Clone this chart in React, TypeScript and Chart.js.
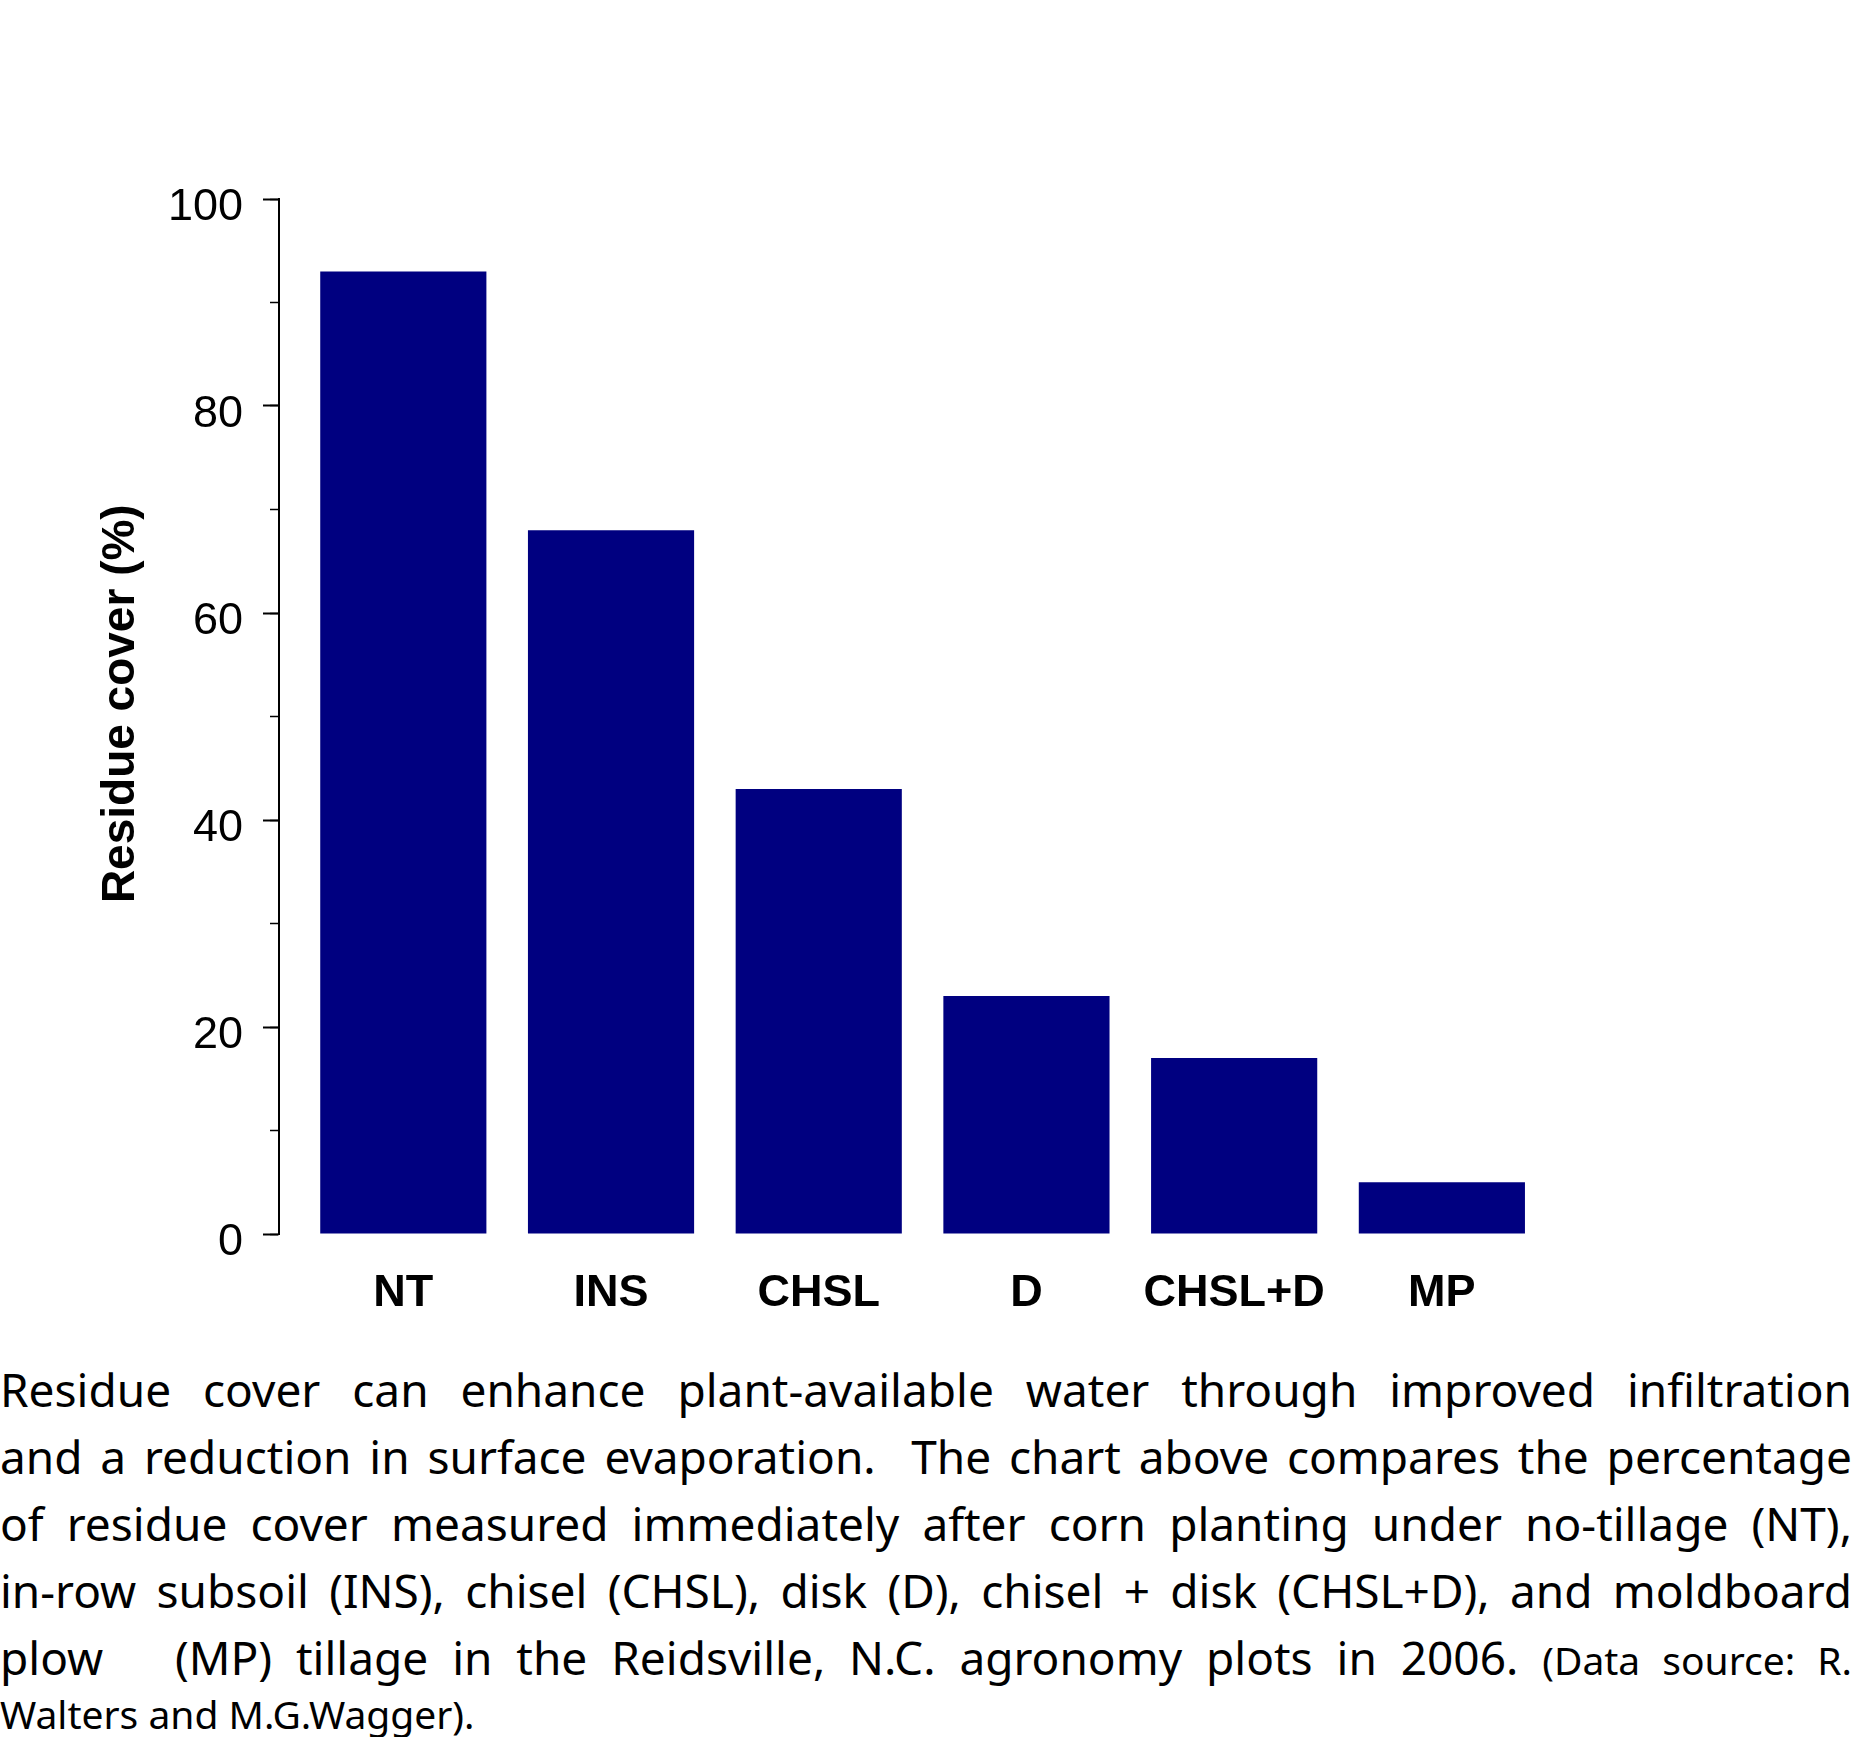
import React, { useEffect, useRef } from 'react';
import { Chart, registerables } from 'chart.js';

Chart.register(...registerables);

const categories = ['NT', 'INS', 'CHSL', 'D', 'CHSL+D', 'MP'];
const residueCover = [93, 68, 43, 23, 17, 5];
const majorTicks = [0, 20, 40, 60, 80, 100];
const minorTicks = [0, 10, 20, 30, 40, 50, 60, 70, 80, 90, 100];

const axisFont = "'Liberation Sans', Arial, Helvetica, sans-serif";
const textFont = "'Noto Sans', 'Open Sans', sans-serif";

const captionLines = [
  'Residue cover can enhance plant-available water through improved infiltration',
  'and a reduction in surface evaporation.\u00a0 The chart above compares the percentage',
  'of residue cover measured immediately after corn planting under no-tillage (NT),',
  'in-row subsoil (INS), chisel (CHSL), disk (D), chisel + disk (CHSL+D), and moldboard',
];

const ResidueChart = () => {
  const canvasRef = useRef<HTMLCanvasElement>(null);
  const chartRef = useRef<Chart | null>(null);

  useEffect(() => {
    document.body.style.margin = '0';
    if (!canvasRef.current) return;
    if (chartRef.current) chartRef.current.destroy();

    chartRef.current = new Chart(canvasRef.current, {
      type: 'bar',
      data: {
        datasets: [
          {
            label: 'Residue cover (%)',
            data: categories.map((c, i) => ({ x: i, y: residueCover[i] })),
            backgroundColor: '#000080',
            borderWidth: 0,
            barPercentage: 0.8,
            categoryPercentage: 1,
          },
        ],
      },
      options: {
        animation: false,
        responsive: true,
        maintainAspectRatio: false,
        layout: { padding: { top: 199, left: 0, right: 285, bottom: 0 } },
        plugins: {
          legend: { display: false },
          tooltip: { enabled: false },
        },
        scales: {
          x: {
            type: 'linear',
            min: -0.5985,
            max: 5.6265,
            offset: false,
            afterBuildTicks: (scale: any) => {
              scale.ticks = categories.map((_, i) => ({ value: i }));
            },
            afterFit: (scale: any) => {
              scale.height = 130;
            },
            grid: { display: false, offset: false },
            border: { display: false },
            ticks: {
              autoSkip: false,
              maxRotation: 0,
              padding: 25,
              color: '#000',
              font: { family: axisFont, size: 45, weight: 'bold' },
              callback: (v: any) => categories[v] ?? '',
            },
          },
          y: {
            type: 'linear',
            position: 'left',
            weight: 1,
            min: 0,
            max: 100,
            afterBuildTicks: (scale: any) => {
              scale.ticks = majorTicks.map((v) => ({ value: v }));
            },
            afterFit: (scale: any) => {
              scale.width = 279;
            },
            grid: {
              drawOnChartArea: false,
              tickLength: 16,
              tickColor: '#000',
              tickWidth: 2,
            },
            border: { display: true, color: '#000', width: 2 },
            ticks: {
              padding: 20,
              labelOffset: 9,
              color: '#000',
              font: { family: axisFont, size: 45 },
            },
            title: {
              display: true,
              text: '  Residue cover (%)',
              color: '#000',
              font: { family: axisFont, size: 46, weight: 'bold' },
              padding: { top: 94, bottom: 0 },
            },
          },
          yMinor: {
            type: 'linear',
            position: 'left',
            weight: 0,
            min: 0,
            max: 100,
            afterBuildTicks: (scale: any) => {
              scale.ticks = minorTicks.map((v) => ({ value: v }));
            },
            afterFit: (scale: any) => {
              scale.width = 0;
            },
            grid: {
              drawOnChartArea: false,
              tickLength: 9,
              tickColor: '#000',
              tickWidth: 1.5,
            },
            border: { display: false },
            ticks: { display: false },
          },
        },
      },
    });

    return () => {
      if (chartRef.current) {
        chartRef.current.destroy();
        chartRef.current = null;
      }
    };
  }, []);

  return (
    <div style={{ position: 'relative', width: 1857, height: 1364 }}>
      <canvas ref={canvasRef}></canvas>
    </div>
  );
};

const lineStyle: React.CSSProperties = {
  textAlign: 'justify',
  textAlignLast: 'justify',
  whiteSpace: 'nowrap',
  height: 67,
  lineHeight: '67px',
};

const App = () => {
  return (
    <div style={{ width: 1857, background: '#fff', color: '#000' }}>
      <ResidueChart />
      <div style={{ width: 1852, marginTop: -8, fontFamily: textFont, fontSize: 46 }}>
        {captionLines.map((line) => (
          <div key={line} style={lineStyle}>
            {line}
          </div>
        ))}
        <div style={lineStyle}>
          plow{'\u00a0\u00a0 '}(MP) tillage in the Reidsville, N.C. agronomy plots in 2006.{' '}
          <span style={{ fontSize: 39 }}>(Data source: R.</span>
        </div>
        <div style={{ fontSize: 39, lineHeight: '46px', whiteSpace: 'nowrap' }}>
          Walters and M.G.Wagger).
        </div>
      </div>
    </div>
  );
};

export default App;
